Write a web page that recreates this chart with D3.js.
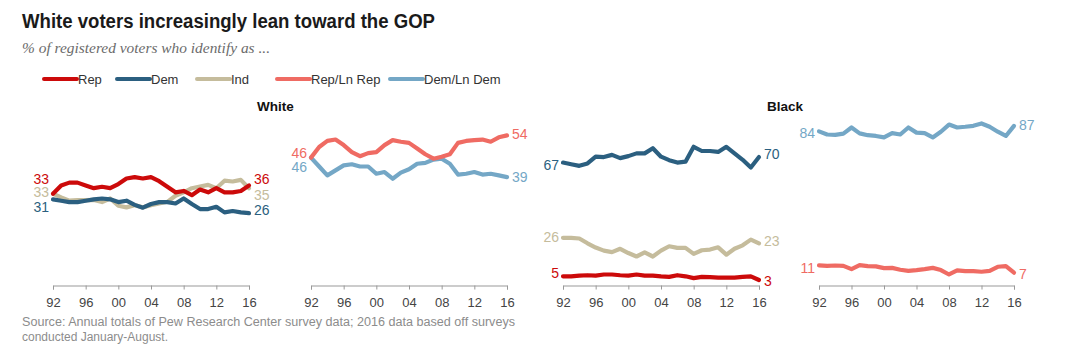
<!DOCTYPE html>
<html>
<head>
<meta charset="utf-8">
<script src="https://cdn.jsdelivr.net/npm/d3@7"></script>
<style>
  html, body { margin: 0; padding: 0; background: #fff; }
  svg { display: block; }
  text { font-family: "Liberation Sans", Arial, sans-serif; }
</style>
</head>
<body>
<svg id="chart" width="1065" height="360"></svg>
<script>
// ---------- DATA ----------
const years = [1992,1993,1994,1995,1996,1997,1998,1999,2000,2001,2002,2003,2004,
               2005,2006,2007,2008,2009,2010,2011,2012,2013,2014,2015,2016];
const tickYears = [1992,1996,2000,2004,2008,2012,2016];

const whiteRep   = [33,36,37,37,36,35,35.5,35,36.5,38.5,39,38.5,39,37.5,35.5,33.5,34,32.5,34.5,33.5,35,33.5,33.5,34,36];
const whiteDem   = [31,30.5,30,30,30.5,31,31.3,31,30,30.5,29,28,29.3,30,30,29.5,31.3,29.3,27.5,27.5,28.3,26.3,26.8,26.3,26];
const whiteInd   = [33,31.7,30.5,30.7,30.7,30.8,30,31.3,28.7,28.1,28.9,28.1,28.9,29.5,30.1,32.3,33.5,35,35.6,36.2,35,37.7,37.4,38,35];
const whiteRepLn = [46,49.8,52,52.5,50.5,48,46.5,47.6,48,50.5,52.3,51.7,51.3,49.3,47.2,45.6,46.3,47.2,51.3,52,52.3,52.5,51.7,53.3,54];
const whiteDemLn = [46,42.8,39.6,41.4,43.2,43.6,42.8,42.8,40.2,40.8,38.4,40.6,41.8,43.8,44.1,45.3,45.6,43.8,39.9,40.2,40.8,39.9,40.2,39.6,39];

const blackRep   = [5,5,5.4,5.6,5.4,6,6,5.6,5.4,6,5.4,5.4,5,4.7,5.6,5,4,4.7,4.6,4.3,4.3,4.3,4.7,5,3];
const blackDem   = [67,66.1,65.2,66.5,70.2,70,71.2,69.4,70.5,72,72,74.8,70.2,68.3,67,67.5,75.6,73.3,73.3,72.8,75.6,72,68.5,64.3,70];
const blackInd   = [26,26,25.6,23,20.7,19,18.2,20,17.7,15.8,18,15.8,19,21.4,20.5,20.5,17.2,19.2,19.6,20.8,16.8,20,21.9,25,23];
const blackRepLn = [11,10.7,10.9,10.7,8.9,11.1,10.6,10.4,9.5,9.6,8.6,8,8.4,8.9,9.6,8.4,6,8.2,7.8,7.8,7.5,8,10.2,10.6,7];
const blackDemLn = [84,82.3,82.1,82.8,86.1,82.9,81.9,81.5,80.7,83,82.3,86.1,83.3,83,80.7,83.8,87.7,86.1,86.5,87,88.3,86.5,83.8,81.5,87];

const seriesNames = ["Rep","Dem","Ind","Rep/Ln Rep","Dem/Ln Dem"];
const colors = {
  "Rep": "#cc0a0a",
  "Dem": "#2b5f80",
  "Ind": "#c5bc9c",
  "Rep/Ln Rep": "#ef6b63",
  "Dem/Ln Dem": "#74a7c6"
};

// ---------- LAYOUT ----------
const svg = d3.select("#chart");
const y0 = 285.5, yTop = 102;

const panels = [
  { x0: 53,  x1: 249, domainMax: 66, series: [["Ind", whiteInd], ["Dem", whiteDem], ["Rep", whiteRep]] },
  { x0: 311, x1: 507, domainMax: 66, series: [["Dem/Ln Dem", whiteDemLn], ["Rep/Ln Rep", whiteRepLn]] },
  { x0: 563, x1: 759, domainMax: 100, series: [["Ind", blackInd], ["Rep", blackRep], ["Dem", blackDem]] },
  { x0: 819, x1: 1014, domainMax: 100, series: [["Dem/Ln Dem", blackDemLn], ["Rep/Ln Rep", blackRepLn]] }
];

// label nudges (px) for start / end value labels, per panel, per series
const nudges = [
  { "Rep": [-14.5, -6], "Ind": [-1.5, 7], "Dem": [7.5, -3] },
  { "Rep/Ln Rep": [-4.5, -1], "Dem/Ln Dem": [9, 0] },
  { "Dem": [2, -3], "Ind": [-1, -2], "Rep": [-3, 1] },
  { "Dem/Ln Dem": [2, -1], "Rep/Ln Rep": [3, 1] }
];

// ---------- TITLE ----------
svg.append("text")
  .attr("x", 22).attr("y", 28)
  .attr("font-size", 20).attr("font-weight", "bold").attr("fill", "#1a1a1a")
  .attr("textLength", 413).attr("lengthAdjust", "spacingAndGlyphs")
  .text("White voters increasingly lean toward the GOP");

svg.append("text")
  .attr("x", 22).attr("y", 53)
  .attr("font-size", 14).attr("font-style", "italic").attr("fill", "#6b6b6b")
  .style("font-family", "'Liberation Serif', 'DejaVu Serif', serif")
  .attr("textLength", 248).attr("lengthAdjust", "spacingAndGlyphs")
  .text("% of registered voters who identify as ...");

// ---------- LEGEND ----------
const legendX = [44, 117, 197, 277, 390];
const lg = svg.append("g");
seriesNames.forEach((name, i) => {
  const g = lg.append("g").attr("transform", `translate(${legendX[i]},79)`);
  g.append("line").attr("x1", 0).attr("x2", 33).attr("y1", 0).attr("y2", 0)
    .attr("stroke", colors[name]).attr("stroke-width", 4).attr("stroke-linecap", "round");
  g.append("text").attr("x", 34).attr("y", 4.5)
    .attr("font-size", 13).attr("fill", "#333").text(name);
});

// ---------- GROUP TITLES ----------
svg.append("text").attr("x", 257).attr("y", 111)
  .attr("font-size", 13.5).attr("font-weight", "bold").attr("fill", "#111").text("White");
svg.append("text").attr("x", 767).attr("y", 111)
  .attr("font-size", 13.5).attr("font-weight", "bold").attr("fill", "#111").text("Black");

// ---------- PANELS ----------
panels.forEach((p, pi) => {
  const x = d3.scaleLinear().domain([years[0], years[years.length - 1]]).range([p.x0, p.x1]);
  const y = d3.scaleLinear().domain([0, p.domainMax]).range([y0, yTop]);
  const g = svg.append("g");

  // axis
  const axis = d3.axisBottom(x)
    .tickValues(tickYears)
    .tickFormat(d => String(d).slice(2))
    .tickSizeInner(4).tickSizeOuter(4).tickPadding(8);
  const ag = g.append("g").attr("transform", `translate(0,${y0})`).call(axis);
  ag.select(".domain").attr("stroke", "#999").attr("stroke-width", 1);
  ag.selectAll(".tick line").attr("stroke", "#999");
  ag.selectAll(".tick text").attr("font-size", 13).attr("fill", "#444")
    .style("font-family", "'Liberation Sans', Arial, sans-serif");

  const line = d3.line().x((d, i) => x(years[i])).y(d => y(d));

  p.series.forEach(([name, vals]) => {
    g.append("path").datum(vals)
      .attr("d", line)
      .attr("fill", "none")
      .attr("stroke", colors[name])
      .attr("stroke-width", 4.2)
      .attr("stroke-linejoin", "round")
      .attr("stroke-linecap", "round");
  });

  p.series.forEach(([name, vals]) => {
    const nd = nudges[pi][name];
    const first = vals[0], last = vals[vals.length - 1];
    g.append("text")
      .attr("x", x(years[0]) - 4).attr("y", y(first) + nd[0])
      .attr("dy", "0.36em").attr("text-anchor", "end")
      .attr("font-size", 14).attr("fill", colors[name])
      .text(Math.round(first));
    g.append("text")
      .attr("x", x(years[years.length - 1]) + 5).attr("y", y(last) + nd[1])
      .attr("dy", "0.36em").attr("text-anchor", "start")
      .attr("font-size", 14).attr("fill", colors[name])
      .text(Math.round(last));
  });
});

// ---------- SOURCE ----------
svg.append("text").attr("x", 22).attr("y", 326)
  .attr("font-size", 12.5).attr("fill", "#8c8c8c")
  .attr("textLength", 493).attr("lengthAdjust", "spacingAndGlyphs")
  .text("Source: Annual totals of Pew Research Center survey data; 2016 data based off surveys");
svg.append("text").attr("x", 22).attr("y", 341)
  .attr("font-size", 12.5).attr("fill", "#8c8c8c")
  .attr("textLength", 146).attr("lengthAdjust", "spacingAndGlyphs")
  .text("conducted January-August.");
</script>
</body>
</html>
